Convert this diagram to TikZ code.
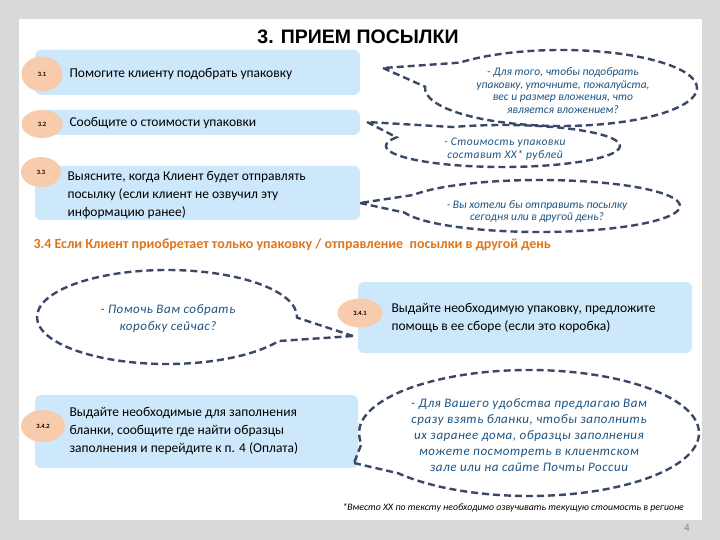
\documentclass[tikz,border=0pt]{standalone}
\usepackage{fontspec}
\setmainfont{Carlito}
\newfontfamily\titlefont{Liberation Sans}
\newfontfamily\midfont[LetterSpace=4]{Carlito}
\usepackage{tikz}
\usetikzlibrary{shapes.geometric,shapes.callouts}

\definecolor{pagegray}{RGB}{217,217,217}
\definecolor{barblue}{RGB}{205,232,250}
\definecolor{numpeach}{RGB}{248,203,173}
\definecolor{dashslate}{RGB}{58,72,102}
\definecolor{speechblue}{RGB}{28,84,130}
\definecolor{headorange}{RGB}{222,118,28}

\tikzset{
  bar/.style={fill=barblue, rounded corners=6pt, inner sep=0pt},
  num/.style={ellipse, fill=numpeach, inner sep=0pt,
    font=\fontsize{6.5}{7}\selectfont\bfseries},
  bartext/.style={anchor=west, align=left, font=\fontsize{13.5}{18}\selectfont},
  bubble/.style={ellipse callout, draw=dashslate, line width=2.4pt,
    dash pattern=on 7pt off 4pt, inner sep=0pt, callout pointer arc=40},
  speech/.style={align=center, text=speechblue,
    font=\fontsize{11.5}{12.5}\selectfont\itshape},
}

\begin{document}
\begin{tikzpicture}[x=1pt,y=-1pt]
  \fill[pagegray] (0,0) rectangle (720,540);
  \fill[white] (19,19) rectangle (702,520);
  \useasboundingbox (0,0) rectangle (720,540);

  \node[font=\titlefont\fontsize{19.5}{22}\selectfont\bfseries] (title) at (358,37) {3. ПРИЕМ ПОСЫЛКИ};

  % steps 3.1 - 3.3
  \node[bar, minimum width=325pt, minimum height=45pt] (bar1) at (197.5,72.5) {};
  \node[bar, minimum width=325pt, minimum height=25pt] (bar2) at (197.5,122.5) {};
  \node[bar, minimum width=325pt, minimum height=54pt] (bar3) at (197.5,193) {};

  \node[num, minimum width=41pt, minimum height=35pt] (n1) at (42,74) {3.1};
  \node[num, minimum width=41pt, minimum height=28pt] (n2) at (42,124) {3.2};
  \node[num, minimum width=40pt, minimum height=30pt] (n3) at (41,172) {3.3};

  \node[bartext] (t1) at (66,74) {Помогите клиенту подобрать упаковку};
  \node[bartext] (t2) at (66,123) {Сообщите о стоимости упаковки};
  \node[bartext] (t3) at (64,195) {Выясните, когда Клиент будет отправлять\\посылку (если клиент не озвучил эту\\информацию ранее)};

  % what to say
  \coordinate (tip1) at (383,68);
  \coordinate (tip2) at (367,122);
  \coordinate (tip3) at (360,203);
  \node[bubble, minimum width=272pt, minimum height=76pt, callout absolute pointer={(tip1)}] (b1) at (561,88) {};
  \node[bubble, minimum width=234pt, minimum height=42pt, callout absolute pointer={(tip2)}] (b2) at (503,146) {};
  \node[bubble, minimum width=280pt, minimum height=52pt, callout absolute pointer={(tip3)}] (b3) at (540,206) {};

  \node[speech] (s1) at (563,90.5) {- Для того, чтобы подобрать\\упаковку, уточните, пожалуйста,\\вес и размер вложения, что\\является вложением?};
  \node[speech, font=\midfont\fontsize{11.5}{12.5}\selectfont\itshape] (s2) at (505,149) {- Стоимость упаковки\\составит XX* рублей};
  \node[speech] (s3) at (537,211.5) {- Вы хотели бы отправить посылку\\сегодня или в другой день?};

  % 3.4
  \node[anchor=west, text=headorange, font=\fontsize{14}{15}\selectfont\bfseries] (head) at (30,245)
    {3.4 Если Клиент приобретает только упаковку / отправление\ \ посылки в другой день};

  \node[bar, minimum width=334pt, minimum height=71pt] (bar41) at (525,317.5) {};
  \node[bar, minimum width=323pt, minimum height=73pt] (bar42) at (196.5,431.5) {};

  \coordinate (tip4) at (353,336);
  \coordinate (tip5) at (354,463);
  \node[bubble, callout pointer arc=30, minimum width=260pt, minimum height=94pt, callout absolute pointer={(tip4)}] (b4) at (167,317) {};
  \node[bubble, callout pointer arc=30, minimum width=340pt, minimum height=126pt, callout absolute pointer={(tip5)}] (b5) at (529,433) {};

  \node[num, minimum width=45pt, minimum height=29pt] (n41) at (360,313) {3.4.1};
  \node[num, minimum width=44pt, minimum height=32pt] (n42) at (43,426) {3.4.2};

  \node[bartext] (t41) at (388,318) {Выдайте необходимую упаковку, предложите\\помощь в ее сборе (если это коробка)};
  \node[bartext] (t42) at (66,431) {Выдайте необходимые для заполнения\\бланки, сообщите где найти образцы\\заполнения и перейдите к п. 4 (Оплата)};

  \node[speech, font=\midfont\fontsize{13}{17}\selectfont\itshape] (s4) at (168,318.5) {- Помочь Вам собрать\\коробку сейчас?};
  \node[speech, font=\midfont\fontsize{13}{16}\selectfont\itshape] (s5) at (529,435) {- Для Вашего удобства предлагаю Вам\\сразу взять бланки, чтобы заполнить\\их заранее дома, образцы заполнения\\можете посмотреть в клиентском\\зале или на сайте Почты России};

  \node[anchor=west, font=\fontsize{9.8}{11}\selectfont\itshape] (note) at (339,508)
    {*Вместо XX по тексту необходимо озвучивать текущую стоимость в регионе};
  \node[text=gray, font=\fontsize{11}{12}\selectfont] (page) at (687,528) {4};
\end{tikzpicture}
\end{document}
